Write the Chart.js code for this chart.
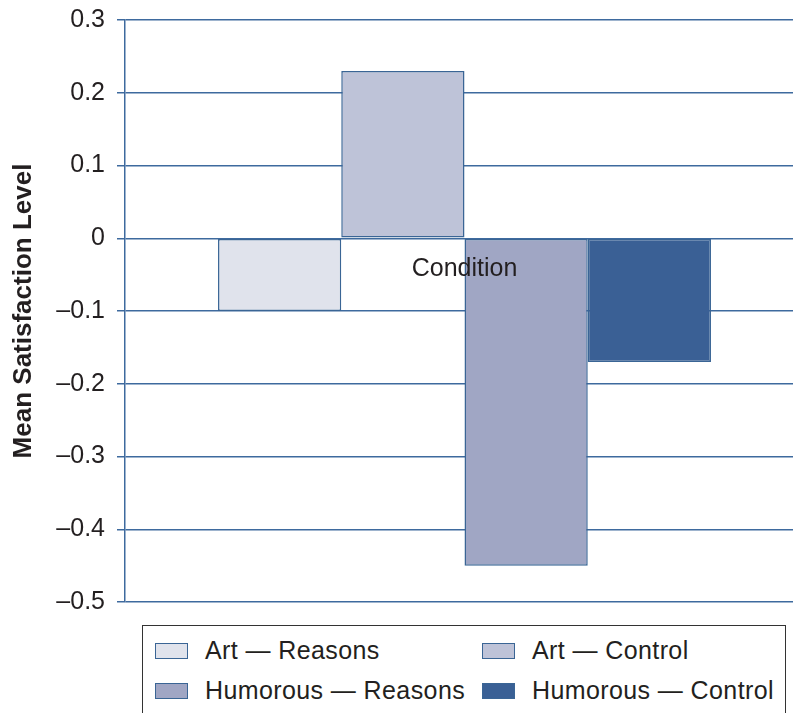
<!DOCTYPE html>
<html>
<head>
<meta charset="utf-8">
<script src="https://cdn.jsdelivr.net/npm/chart.js@4/dist/chart.umd.min.js"></script>
<style>
  html, body { margin: 0; padding: 0; background: #fff; width: 793px; height: 713px; overflow: hidden; }
  #wrap { position: absolute; left: 0; top: -7px; width: 804px; height: 636px; }
  #legend { position: absolute; left: 142px; top: 625px; width: 644px; height: 110px; border: 1.5px solid #333; box-sizing: border-box; background: #fff;
            font-family: "Liberation Sans", Arial, Helvetica, sans-serif; font-size: 25px; letter-spacing: 0.4px; color: #231f20; }
  .item { position: absolute; display: flex; align-items: center; white-space: nowrap; }
  .sw { width: 33px; height: 16px; border: 1.5px solid #3a6595; box-sizing: border-box; margin-right: 17px; }
</style>
</head>
<body>
<div id="wrap"><canvas id="c"></canvas></div>
<div id="legend"></div>
<script>
const categories = ["Condition"];
const seriesNames = ["Art \u2014 Reasons", "Art \u2014 Control", "Humorous \u2014 Reasons", "Humorous \u2014 Control"];
const seriesValues = [-0.10, 0.23, -0.45, -0.17];
const seriesColors = ["#e0e3ec", "#bec3d8", "#a0a6c4", "#3a6095"];
const yTicks = [0.3, 0.2, 0.1, 0, -0.1, -0.2, -0.3, -0.4, -0.5];
const yTitle = "Mean Satisfaction Level";

const lineColor = "#3e6a9e";
const fontFam = '"Liberation Sans", Arial, Helvetica, sans-serif';

const conditionLabel = {
  id: 'conditionLabel',
  afterDatasetsDraw(chart) {
    const ctx = chart.ctx;
    const x = chart.scales.x.getPixelForValue(0);
    const y = chart.scales.y.getPixelForValue(0) + 31;
    ctx.save();
    ctx.font = '25px ' + fontFam;
    ctx.fillStyle = '#231f20';
    ctx.textAlign = 'center';
    ctx.textBaseline = 'middle';
    ctx.fillText(categories[0], x, y);
    ctx.restore();
  }
};

new Chart(document.getElementById('c'), {
  type: 'bar',
  data: {
    labels: categories,
    datasets: seriesNames.map((n, i) => ({
      label: n,
      data: [seriesValues[i]],
      backgroundColor: seriesColors[i],
      borderColor: '#3a6595',
      borderWidth: 1.5,
      borderSkipped: false,
      barPercentage: 1,
      categoryPercentage: 0.726
    }))
  },
  options: {
    responsive: true,
    maintainAspectRatio: false,
    animation: false,
    layout: { padding: { top: 13, right: 0, bottom: 15, left: 0 } },
    plugins: { legend: { display: false }, tooltip: { enabled: false } },
    scales: {
      x: {
        display: true,
        grid: { display: false, drawTicks: false },
        border: { display: false },
        ticks: { display: false }
      },
      y: {
        min: -0.5, max: 0.3,
        afterFit(scale) { scale.width = 125; },
        afterBuildTicks(scale) { scale.ticks = yTicks.map(v => ({ value: v })); },
        grid: { color: lineColor, lineWidth: 1.5, tickLength: 8, drawTicks: true, tickColor: lineColor },
        border: { display: true, color: lineColor, width: 1.5 },
        ticks: {
          padding: 12,
          color: '#231f20',
          font: { family: fontFam, size: 25 },
          callback(v) {
            const r = Math.round(v * 10) / 10;
            if (r === 0) return '0';
            return (r < 0 ? '\u2013' : '') + Math.abs(r).toString();
          }
        },
        title: {
          display: true,
          text: yTitle,
          color: '#231f20',
          font: { family: fontFam, size: 26, weight: 'bold' },
          padding: { top: 8, bottom: 0 }
        }
      }
    }
  },
  plugins: [conditionLabel]
});

const legend = document.getElementById('legend');
const pos = [[12, 10], [339, 10], [12, 50], [339, 50]];
seriesNames.forEach((n, i) => {
  const it = document.createElement('div');
  it.className = 'item';
  it.style.left = pos[i][0] + 'px';
  it.style.top = pos[i][1] + 'px';
  const sw = document.createElement('div');
  sw.className = 'sw';
  sw.style.background = seriesColors[i];
  const tx = document.createElement('span');
  tx.textContent = n;
  it.appendChild(sw); it.appendChild(tx);
  legend.appendChild(it);
});
</script>
</body>
</html>
